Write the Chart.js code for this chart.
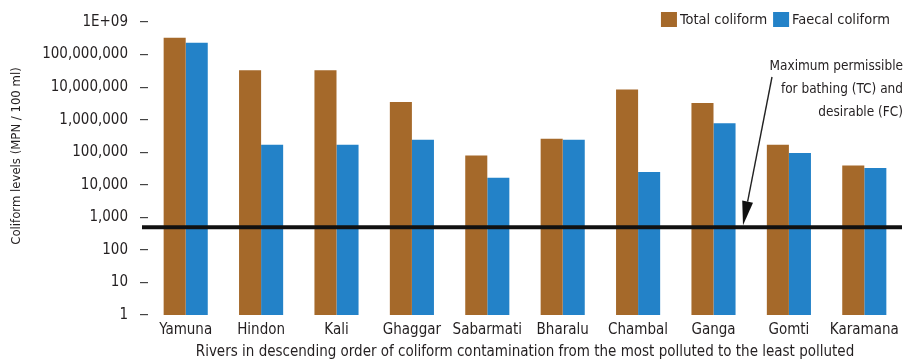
<!DOCTYPE html>
<html>
<head>
<meta charset="utf-8">
<script src="https://cdn.jsdelivr.net/npm/chart.js@4"></script>
<style>
  html, body { margin: 0; padding: 0; background: #fff; }
  #box { width: 908px; height: 362px; }
</style>
</head>
<body>
<div id="box"><canvas id="grafico"></canvas></div>
<script>
//dados do gráfico
var rios = ["Yamuna", "Hindon", "Kali", "Ghaggar", "Sabarmati", "Bharalu", "Chambal", "Ganga", "Gomti", "Karamana"];//eixo x
var totalColiform = [330000000, 33000000, 33000000, 3500000, 80000, 260000, 8500000, 3250000, 170000, 39000];//TC
var faecalColiform = [230000000, 170000, 170000, 240000, 16500, 240000, 24500, 770000, 95000, 33000];//FC
var yTicks = [1, 10, 100, 1000, 10000, 100000, 1000000, 10000000, 100000000, 1000000000];//marcas do eixo y
var limite = 500;//limite para banho (MPN/100 ml)
var nomesSeries = ["Total coliform", "Faecal coliform"];
var notaLimite = ["Maximum permissible", "for bathing (TC) and", "desirable (FC)"];

var fonte = "'Liberation Sans Narrow', 'DejaVu Sans Condensed', 'Arial Narrow', sans-serif";
var corTexto = "#231f20";
var cores = ["#a5692a", "#2382c8"];//marrom e azul

//formato dos rótulos do eixo y
function formatarTick(v) {
  if (v >= 1e9) return "1E+09";
  return Number(v).toLocaleString("en-US");
}

//plugin para linha do limite, seta, nota, legenda e título do eixo y
var extras = {
  id: "extras",
  afterDraw: function(chart) {
    var ctx = chart.ctx;
    var area = chart.chartArea;
    var yl = chart.scales.y.getPixelForValue(limite);
    ctx.save();

    //linha do limite
    ctx.strokeStyle = "#111";
    ctx.lineWidth = 4;
    ctx.beginPath();
    ctx.moveTo(area.left - 6, yl);
    ctx.lineTo(area.right, yl);
    ctx.stroke();

    //seta
    var x0 = area.right - 130, y0 = area.top + 55;
    var x1 = area.right - 159, y1 = yl - 2;
    var dx = x0 - x1, dy = y0 - y1;
    var len = Math.sqrt(dx * dx + dy * dy);
    dx /= len; dy /= len;
    var bx = x1 + dx * 24, by = y1 + dy * 24;
    ctx.lineWidth = 1.4;
    ctx.strokeStyle = "#222";
    ctx.beginPath();
    ctx.moveTo(x0, y0);
    ctx.lineTo(bx, by);
    ctx.stroke();
    ctx.fillStyle = "#111";
    ctx.beginPath();
    ctx.moveTo(x1, y1);
    ctx.lineTo(bx - dy * 5.5, by + dx * 5.5);
    ctx.lineTo(bx + dy * 5.5, by - dx * 5.5);
    ctx.closePath();
    ctx.fill();

    //nota
    ctx.font = "13.5px " + fonte;
    ctx.fillStyle = corTexto;
    ctx.textAlign = "right";
    ctx.textBaseline = "middle";
    notaLimite.forEach(function(t, i) {
      ctx.fillText(t, area.right + 1, area.top + 44 + i * 23);
    });

    //legenda
    ctx.font = "14.5px " + fonte;
    ctx.textAlign = "left";
    var larg = nomesSeries.map(function(t) { return ctx.measureText(t).width; });
    var total = 0;
    larg.forEach(function(w) { total += 16 + 3 + w; });
    total += 6;
    var lx = area.right - 12 - total;
    var ly = 19.5;
    nomesSeries.forEach(function(t, i) {
      ctx.fillStyle = cores[i];
      ctx.fillRect(lx, ly - 7.5, 16, 15);
      ctx.fillStyle = corTexto;
      ctx.fillText(t, lx + 19, ly + 1);
      lx += 16 + 3 + larg[i] + 6;
    });

    //título do eixo y
    ctx.font = "13px " + fonte;
    ctx.translate(17, 156);
    ctx.rotate(-Math.PI / 2);
    ctx.textAlign = "center";
    ctx.fillText("Coliform levels (MPN / 100 ml)", 0, 0);
    ctx.restore();
  }
};

var myChart = new Chart(document.getElementById("grafico"), {
  type: "bar",
  data: {
    labels: rios,
    datasets: [{
      label: nomesSeries[0],
      data: totalColiform,
      backgroundColor: cores[0],
      borderWidth: 0,
      categoryPercentage: 0.585,
      barPercentage: 1.0
    }, {
      label: nomesSeries[1],
      data: faecalColiform,
      backgroundColor: cores[1],
      borderWidth: 0,
      categoryPercentage: 0.585,
      barPercentage: 1.0
    }]
  },
  options: {
    responsive: true,
    maintainAspectRatio: false,
    animation: false,
    layout: { padding: { top: 22, right: 6, bottom: 1, left: 0 } },
    plugins: {
      legend: { display: false },
      tooltip: { enabled: false }
    },
    scales: {
      x: {
        grid: { display: false, drawTicks: false },
        border: { display: false },
        ticks: {
          font: { family: fonte, size: 15 },
          color: corTexto,
          padding: 6,
          maxRotation: 0,
          autoSkip: false
        },
        title: {
          display: true,
          text: "Rivers in descending order of coliform contamination from the most polluted to the least polluted",
          font: { family: fonte, size: 15 },
          color: corTexto,
          padding: { top: 0, bottom: 0 }
        },
        afterFit: function(scale) { scale.height = 46; }
      },
      y: {
        type: "logarithmic",
        min: 1,
        max: 1000000000,
        afterBuildTicks: function(scale) {
          scale.ticks = yTicks.map(function(v) { return { value: v }; });
        },
        grid: {
          drawOnChartArea: false,
          drawTicks: true,
          tickLength: 8,
          color: "#444",
          lineWidth: 1.2
        },
        border: { display: false },
        ticks: {
          callback: function(v) { return formatarTick(v); },
          font: { family: fonte, size: 15 },
          color: corTexto,
          padding: 12
        },
        afterFit: function(scale) { scale.width = 148; }
      }
    }
  },
  plugins: [extras]
});
</script>
</body>
</html>
